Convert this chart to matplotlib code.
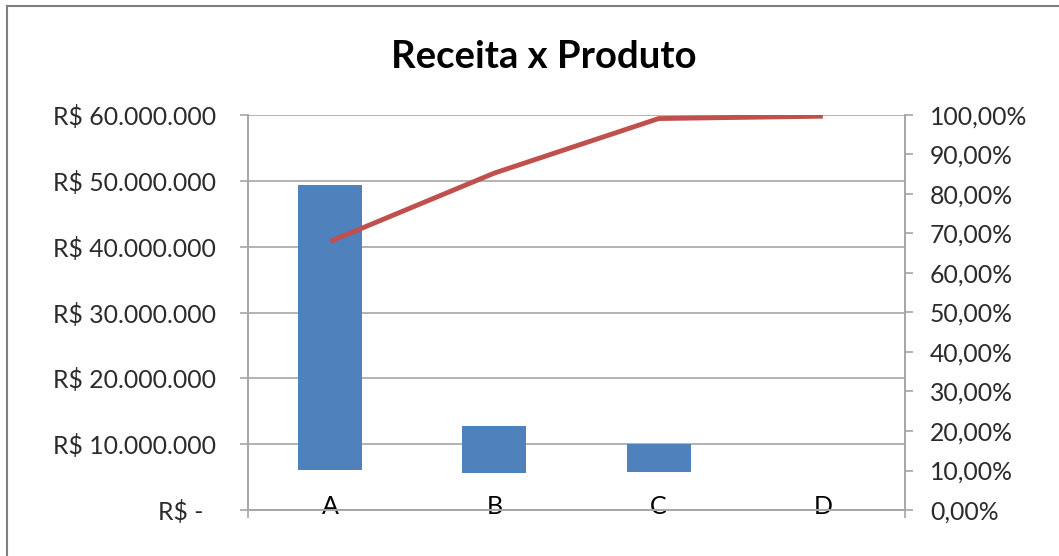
import matplotlib
matplotlib.use("Agg")
import matplotlib.pyplot as plt
from matplotlib.lines import Line2D
from matplotlib.ticker import FuncFormatter, MultipleLocator

# dados
produtos = ["A", "B", "C", "D"]
receita_topo = [49.4e6, 12.8e6, 10.0e6, 0.0]
receita_base = [6.1e6, 5.6e6, 5.8e6, 0.0]
acumulado = [0.680, 0.853, 0.991, 0.997]

plt.rcParams['font.family'] = ['Lato', 'DejaVu Sans']
texto = '#2b2b2b'
cinza = '#a6a6a6'

fig = plt.figure(figsize=(10.59, 5.56), dpi=100)
W, H = 1059, 556
ax = fig.add_axes([248 / W, 46 / H, 657 / W, 395 / H])
ax2 = ax.twinx()

x = list(range(len(produtos)))
alturas = [t - b for t, b in zip(receita_topo, receita_base)]
ax.bar(x, alturas, bottom=receita_base, width=0.39, color='#4f81bd', zorder=3)
ax2.plot(x, acumulado, color='#c0504d', lw=3.5, solid_capstyle='butt', zorder=4)

ax.set_xlim(-0.5, 3.5)
ax.set_ylim(0, 60e6)
ax2.set_ylim(0, 1)

def fmt_reais(v, pos):
    if v == 0:
        return 'R$ -  '
    return 'R$ ' + f'{v:,.0f}'.replace(',', '.')

def fmt_pct(v, pos):
    return f'{v * 100:.2f}%'.replace('.', ',')

ax.yaxis.set_major_locator(MultipleLocator(10e6))
ax.yaxis.set_major_formatter(FuncFormatter(fmt_reais))
ax2.yaxis.set_major_locator(MultipleLocator(0.1))
ax2.yaxis.set_major_formatter(FuncFormatter(fmt_pct))

ax.grid(axis='y', color=cinza, lw=1.2, zorder=0)
ax.set_axisbelow(True)

ax.set_xticks(x)
ax.set_xticklabels(produtos)
ax.set_xticks([-0.5, 3.5], minor=True)
ax.tick_params(axis='x', which='major', length=0, pad=-11, labelsize=18, labelcolor='black')
ax.tick_params(axis='x', which='minor', length=6, color=cinza, width=1.2)
ax.tick_params(axis='y', length=6, color=cinza, width=1.2, pad=17, labelsize=17.8, labelcolor=texto)
ax2.tick_params(axis='y', length=6, color=cinza, width=1.2, pad=12, labelsize=17.8, labelcolor=texto)

for a in (ax, ax2):
    for s in ('top',):
        a.spines[s].set_visible(False)
    for s in ('left', 'right', 'bottom'):
        a.spines[s].set_color(cinza)
        a.spines[s].set_linewidth(1.2)

fig.text(544 / W, 1 - 57 / H, 'Receita x Produto', ha='center', va='center',
         fontsize=27.5, fontweight='bold', color='black')

# moldura do grafico
fig.add_artist(Line2D([7 / W, 1], [1 - 6 / H, 1 - 6 / H], color='#7f7f7f', lw=1.5))
fig.add_artist(Line2D([7 / W, 7 / W], [0, 1 - 6 / H], color='#7f7f7f', lw=1.5))

fig.savefig('out.png', dpi=100, facecolor='white')
